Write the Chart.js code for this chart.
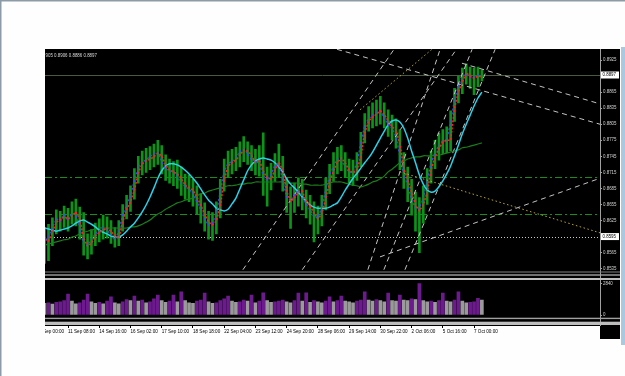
<!DOCTYPE html>
<html>
<head>
<meta charset="utf-8">
<title>H1 chart</title>
<script src="https://cdn.jsdelivr.net/npm/chart.js@4.4.1/dist/chart.umd.min.js"></script>
<style>
  html, body { margin: 0; padding: 0; background: #fdfefd; overflow: hidden; }
  canvas { display: block; }
</style>
</head>
<body>
<canvas id="chart" width="625" height="376"></canvas>
<script>
// time axis: one label every 8 points (a point = 4 hourly bars)
var timeLabels = ['10 Sep 00:00', '11 Sep 08:00', '14 Sep 16:00', '16 Sep 02:00', '17 Sep 10:00',
  '18 Sep 18:00', '22 Sep 04:00', '23 Sep 12:00', '24 Sep 20:00', '28 Sep 06:00',
  '29 Sep 14:00', '30 Sep 22:00', '2 Oct 06:00', '5 Oct 16:00', '7 Oct 00:00'];
var firstIndex = 2;

var highs = [
  0.8612, 0.8618, 0.8630, 0.8645, 0.8642, 0.8652, 0.8648, 0.8660, 0.8665, 0.8650,
  0.8640, 0.8600, 0.8608, 0.8620, 0.8628, 0.8635, 0.8632, 0.8625, 0.8612, 0.8625,
  0.8655, 0.8672, 0.8690, 0.8722, 0.8745, 0.8755, 0.8760, 0.8763, 0.8768, 0.8775,
  0.8765, 0.8748, 0.8740, 0.8735, 0.8738, 0.8725, 0.8712, 0.8710, 0.8702, 0.8690,
  0.8675, 0.8658, 0.8642, 0.8640, 0.8660, 0.8702, 0.8740, 0.8755, 0.8758, 0.8762,
  0.8772, 0.8782, 0.8772, 0.8765, 0.8758, 0.8765, 0.8789, 0.8725, 0.8732, 0.8750,
  0.8768, 0.8745, 0.8705, 0.8688, 0.8695, 0.8705, 0.8702, 0.8682, 0.8672, 0.8660,
  0.8652, 0.8672, 0.8705, 0.8730, 0.8752, 0.8762, 0.8765, 0.8752, 0.8740, 0.8738,
  0.8752, 0.8790, 0.8825, 0.8838, 0.8845, 0.8850, 0.8857, 0.8845, 0.8832, 0.8822,
  0.8815, 0.8795, 0.8752, 0.8725, 0.8702, 0.8678, 0.8668, 0.8690, 0.8722, 0.8755,
  0.8775, 0.8788, 0.8795, 0.8800, 0.8830, 0.8872, 0.8895, 0.8910, 0.8918, 0.8912,
  0.8910, 0.8912, 0.8906];
var lows = [
  0.8545, 0.8550, 0.8578, 0.8600, 0.8605, 0.8612, 0.8605, 0.8618, 0.8615, 0.8590,
  0.8560, 0.8553, 0.8562, 0.8578, 0.8585, 0.8590, 0.8592, 0.8582, 0.8575, 0.8578,
  0.8605, 0.8628, 0.8642, 0.8665, 0.8695, 0.8710, 0.8715, 0.8720, 0.8725, 0.8730,
  0.8712, 0.8700, 0.8695, 0.8690, 0.8685, 0.8672, 0.8665, 0.8660, 0.8652, 0.8638,
  0.8620, 0.8605, 0.8590, 0.8588, 0.8600, 0.8630, 0.8680, 0.8705, 0.8712, 0.8718,
  0.8725, 0.8735, 0.8730, 0.8718, 0.8710, 0.8708, 0.8672, 0.8652, 0.8682, 0.8698,
  0.8705, 0.8680, 0.8640, 0.8610, 0.8640, 0.8652, 0.8645, 0.8630, 0.8618, 0.8585,
  0.8600, 0.8615, 0.8645, 0.8675, 0.8698, 0.8712, 0.8718, 0.8705, 0.8695, 0.8690,
  0.8700, 0.8725, 0.8770, 0.8792, 0.8798, 0.8802, 0.8805, 0.8798, 0.8782, 0.8775,
  0.8760, 0.8720, 0.8685, 0.8660, 0.8635, 0.8605, 0.8565, 0.8620, 0.8655, 0.8695,
  0.8722, 0.8738, 0.8750, 0.8752, 0.8755, 0.8810, 0.8845, 0.8862, 0.8880, 0.8872,
  0.8860, 0.8875, 0.8886];
var closes = [
  0.8585, 0.8595, 0.8612, 0.8628, 0.8624, 0.8636, 0.8625, 0.8638, 0.8636, 0.8612,
  0.8580, 0.8579, 0.8590, 0.8601, 0.8606, 0.8612, 0.8607, 0.8598, 0.8589, 0.8605,
  0.8636, 0.8653, 0.8672, 0.8700, 0.8725, 0.8735, 0.8738, 0.8745, 0.8749, 0.8753,
  0.8735, 0.8722, 0.8717, 0.8714, 0.8707, 0.8695, 0.8688, 0.8684, 0.8675, 0.8660,
  0.8645, 0.8628, 0.8616, 0.8620, 0.8638, 0.8680, 0.8718, 0.8732, 0.8735, 0.8743,
  0.8754, 0.8759, 0.8750, 0.8738, 0.8737, 0.8730, 0.8709, 0.8700, 0.8712, 0.8728,
  0.8730, 0.8700, 0.8668, 0.8662, 0.8673, 0.8682, 0.8670, 0.8655, 0.8645, 0.8632,
  0.8630, 0.8650, 0.8683, 0.8709, 0.8727, 0.8740, 0.8738, 0.8725, 0.8715, 0.8716,
  0.8732, 0.8770, 0.8803, 0.8816, 0.8821, 0.8828, 0.8828, 0.8817, 0.8804, 0.8797,
  0.8782, 0.8745, 0.8710, 0.8690, 0.8665, 0.8647, 0.8648, 0.8667, 0.8700, 0.8733,
  0.8752, 0.8766, 0.8774, 0.8776, 0.8808, 0.8852, 0.8876, 0.8894, 0.8898, 0.8892,
  0.8894, 0.8896, 0.8897];
var fastMA = [
  0.8589, 0.8587, 0.8603, 0.8622, 0.8626, 0.8632, 0.8628, 0.8633, 0.8641, 0.8628,
  0.8592, 0.8577, 0.8583, 0.8596, 0.8603, 0.8607, 0.8611, 0.8605, 0.8596, 0.8592,
  0.8622, 0.8645, 0.8660, 0.8682, 0.8714, 0.8731, 0.8736, 0.8740, 0.8744, 0.8751,
  0.8746, 0.8729, 0.8719, 0.8716, 0.8712, 0.8703, 0.8691, 0.8686, 0.8682, 0.8669,
  0.8654, 0.8637, 0.8622, 0.8617, 0.8624, 0.8652, 0.8701, 0.8727, 0.8733, 0.8738,
  0.8747, 0.8757, 0.8755, 0.8747, 0.8733, 0.8738, 0.8718, 0.8704, 0.8703, 0.8719,
  0.8734, 0.8719, 0.8680, 0.8661, 0.8667, 0.8678, 0.8680, 0.8661, 0.8652, 0.8639,
  0.8628, 0.8637, 0.8665, 0.8697, 0.8718, 0.8733, 0.8742, 0.8733, 0.8719, 0.8714,
  0.8719, 0.8744, 0.8789, 0.8811, 0.8818, 0.8824, 0.8830, 0.8824, 0.8811, 0.8800,
  0.8794, 0.8768, 0.8723, 0.8701, 0.8678, 0.8654, 0.8643, 0.8654, 0.8678, 0.8719,
  0.8744, 0.8759, 0.8772, 0.8775, 0.8775, 0.8835, 0.8865, 0.8884, 0.8901, 0.8895,
  0.8891, 0.8895, 0.8893];
var midMA = [
  0.8611, 0.8609, 0.8607, 0.8605, 0.8607, 0.8609, 0.8611, 0.8615, 0.8620, 0.8624,
  0.8626, 0.8622, 0.8618, 0.8613, 0.8607, 0.8603, 0.8600, 0.8596, 0.8594, 0.8594,
  0.8598, 0.8605, 0.8613, 0.8620, 0.8630, 0.8641, 0.8654, 0.8669, 0.8686, 0.8704,
  0.8718, 0.8727, 0.8731, 0.8731, 0.8729, 0.8725, 0.8719, 0.8712, 0.8704, 0.8695,
  0.8684, 0.8673, 0.8663, 0.8656, 0.8648, 0.8645, 0.8643, 0.8646, 0.8656, 0.8667,
  0.8684, 0.8701, 0.8718, 0.8729, 0.8736, 0.8740, 0.8742, 0.8740, 0.8738, 0.8733,
  0.8725, 0.8716, 0.8703, 0.8693, 0.8686, 0.8678, 0.8669, 0.8661, 0.8654, 0.8650,
  0.8648, 0.8648, 0.8648, 0.8650, 0.8654, 0.8658, 0.8669, 0.8682, 0.8693, 0.8704,
  0.8713, 0.8723, 0.8733, 0.8742, 0.8753, 0.8766, 0.8779, 0.8792, 0.8804, 0.8811,
  0.8813, 0.8809, 0.8798, 0.8779, 0.8755, 0.8733, 0.8710, 0.8693, 0.8682, 0.8678,
  0.8680, 0.8688, 0.8699, 0.8712, 0.8727, 0.8746, 0.8766, 0.8787, 0.8805, 0.8822,
  0.8839, 0.8854, 0.8865];
var slowMA = [
  0.8579, 0.8581, 0.8583, 0.8585, 0.8587, 0.8589, 0.8590, 0.8594, 0.8596, 0.8600,
  0.8603, 0.8605, 0.8607, 0.8609, 0.8611, 0.8611, 0.8611, 0.8611, 0.8611, 0.8611,
  0.8611, 0.8611, 0.8613, 0.8613, 0.8615, 0.8618, 0.8622, 0.8626, 0.8632, 0.8637,
  0.8641, 0.8646, 0.8650, 0.8654, 0.8658, 0.8660, 0.8663, 0.8665, 0.8667, 0.8671,
  0.8675, 0.8676, 0.8680, 0.8682, 0.8684, 0.8686, 0.8688, 0.8690, 0.8690, 0.8691,
  0.8693, 0.8693, 0.8695, 0.8695, 0.8697, 0.8697, 0.8697, 0.8697, 0.8697, 0.8697,
  0.8697, 0.8697, 0.8695, 0.8695, 0.8695, 0.8695, 0.8693, 0.8693, 0.8691, 0.8691,
  0.8691, 0.8691, 0.8693, 0.8695, 0.8697, 0.8697, 0.8697, 0.8695, 0.8693, 0.8691,
  0.8690, 0.8688, 0.8690, 0.8693, 0.8697, 0.8699, 0.8703, 0.8708, 0.8716, 0.8721,
  0.8727, 0.8733, 0.8736, 0.8740, 0.8742, 0.8744, 0.8744, 0.8746, 0.8746, 0.8746,
  0.8747, 0.8747, 0.8749, 0.8751, 0.8753, 0.8755, 0.8757, 0.8761, 0.8762, 0.8764,
  0.8766, 0.8768, 0.8770];
var volumes = [
  1050, 1100, 980, 1150, 1200, 1300, 1890, 1250, 1000, 1100,
  1350, 1890, 1200, 1050, 1150, 1000, 1250, 1650, 1100, 1000,
  1200, 1400, 1300, 1700, 1250, 1350, 1100, 1200, 1450, 1800,
  1300, 1150, 1250, 1800, 1200, 2100, 1300, 1100, 1050, 1250,
  1350, 1980, 1200, 1050, 1100, 1300, 1450, 1700, 1250, 1150,
  1200, 1350, 1250, 1800, 1100, 1250, 2000, 1300, 1150, 1200,
  1250, 1350, 1200, 1100, 1300, 1980, 1250, 2000, 1150, 1300,
  1200, 1100, 1250, 1650, 1200, 1300, 1700, 1250, 1200, 1100,
  1250, 1350, 2100, 1350, 1250, 1400, 1300, 1200, 1980, 1300,
  1250, 1800, 1350, 1300, 1450, 1400, 2840, 1300, 1200, 1250,
  1150, 1300, 1980, 1250, 1200, 1350, 2100, 1250, 1100, 1150,
  1200, 1500, 1350];

var priceTicks = [0.8925, 0.8865, 0.8835, 0.8805, 0.8775, 0.8745, 0.8715, 0.8685,
  0.8655, 0.8625, 0.8565, 0.8535];
var volumeTicks = [0, 2840];
var bidPrice = 0.8897;
var markedPrice = 0.8595;
var levelPrices = [0.8707, 0.8637];
var headerText = '905 0.8906 0.8886 0.8897';

// hand drawn objects: [index, price, index, price]
var dashedLines = [
  [52.8, 0.8533, 91.5, 0.8945],
  [68.0, 0.8533, 107.5, 0.8945],
  [84.8, 0.8533, 103.3, 0.8945],
  [88.9, 0.8533, 111.5, 0.8945],
  [94.3, 0.8533, 117.4, 0.8945],
  [87.9, 0.8557, 144.26, 0.8704],
  [76.9, 0.8945, 144.26, 0.8805],
  [108.9, 0.8919, 144.26, 0.8843]
];
var dottedLines = [
  [93.0, 0.8716, 144.26, 0.8602],
  [82.8, 0.8832, 101.2, 0.8945]
];

function series(values) {
  return values.map(function (v, i) { return { x: firstIndex + i, y: v }; });
}
function segment(s) {
  return [{ x: s[0], y: s[1] }, { x: s[2], y: s[3] }];
}

// the screenshot uses a narrow terminal font: prefer a narrow face and size it to the label widths
var probe = document.createElement('canvas').getContext('2d');
function measure(fam, text) { probe.font = '20px ' + fam; return probe.measureText(text).width; }
var family = measure("'Liberation Sans Narrow', monospace", '11 Sep 08:00') !== measure('monospace', '11 Sep 08:00')
  ? "'Liberation Sans Narrow', 'Liberation Sans', sans-serif" : "'Liberation Sans', Arial, sans-serif";
function fitSize(text, width) { return Math.max(4.4, Math.min(6.5, 20 * width / measure(family, text))); }
var timeFont = { family: family, size: fitSize('11 Sep 08:00', 27) };
var priceFont = { family: family, size: fitSize('0.8925', 13.5) };

var panes = {
  id: 'panes',
  beforeDraw: function (chart) {
    var ctx = chart.ctx, a = chart.chartArea;
    ctx.save();
    ctx.fillStyle = '#fdfefd';
    ctx.fillRect(0, 0, chart.width, chart.height);
    ctx.fillStyle = '#000';
    ctx.fillRect(45, a.top, 620 - 45, a.bottom - a.top + 1);
    ctx.fillRect(a.right, a.bottom, 20, 14);
    ctx.fillStyle = '#a9c9e1';
    ctx.fillRect(621, a.top - 2, 4, 298);
    ctx.restore();
  },
  beforeDatasetsDraw: function (chart) {
    var ctx = chart.ctx, a = chart.chartArea, y = chart.scales.y, v = chart.scales.v;
    ctx.save();
    // sub window separators
    var t = v.top, b = v.bottom;
    ctx.fillStyle = '#808080'; ctx.fillRect(45, t + 1.5, 575, 1);
    ctx.fillStyle = '#a0a0a0'; ctx.fillRect(45, t + 4.3, 575, 1.4);
    ctx.fillStyle = '#bdbdbd'; ctx.fillRect(45, t + 8, 575, 2);
    ctx.fillStyle = '#a0a0a0'; ctx.fillRect(45, b - 7.3, 575, 1.4);
    ctx.fillStyle = '#bdbdbd'; ctx.fillRect(45, b - 3.3, 575, 3.3);

    ctx.lineWidth = 1;
    ctx.beginPath();
    ctx.strokeStyle = '#4a5a40';
    var py = Math.round(y.getPixelForValue(bidPrice)) + 0.5;
    ctx.moveTo(45, py); ctx.lineTo(a.right, py); ctx.stroke();

    ctx.beginPath();
    ctx.setLineDash([1, 2]);
    ctx.strokeStyle = '#c8c8c8';
    py = Math.round(y.getPixelForValue(markedPrice)) + 0.5;
    ctx.moveTo(45, py); ctx.lineTo(a.right, py); ctx.stroke();

    ctx.setLineDash([7, 3, 2, 3]);
    ctx.strokeStyle = '#1c8c1c';
    levelPrices.forEach(function (p) {
      var ly = Math.round(y.getPixelForValue(p)) + 0.5;
      ctx.beginPath(); ctx.moveTo(45, ly); ctx.lineTo(a.right, ly); ctx.stroke();
    });
    ctx.restore();
  },
  afterDraw: function (chart) {
    var ctx = chart.ctx, a = chart.chartArea, y = chart.scales.y;
    ctx.save();
    ctx.font = priceFont.size + 'px ' + family;
    ctx.textBaseline = 'middle';
    ctx.textAlign = 'left';
    [bidPrice, markedPrice].forEach(function (p) {
      var py = y.getPixelForValue(p);
      ctx.fillStyle = '#ffffff';
      ctx.fillRect(a.right + 1, py - 3.5, 18, 7);
      ctx.fillStyle = '#000';
      ctx.fillText(p.toFixed(4), a.right + 2.5, py);
    });
    ctx.fillStyle = '#d8d8d8';
    ctx.fillText(headerText, 45.5, 55.5);
    // left window edge clips the first time label
    ctx.fillStyle = '#fdfefd';
    ctx.fillRect(0, 0, 45, chart.height);
    ctx.fillStyle = '#8d9aa8';
    ctx.fillRect(0, 0, 1.5, chart.height);
    ctx.fillRect(0, 0, chart.width, 1.5);
    ctx.restore();
  }
};

var datasets = [
  {
    type: 'line', label: 'Fast', yAxisID: 'y', data: series(fastMA),
    borderColor: '#ff2020', borderWidth: 1.6, borderDash: [2, 1.5],
    pointRadius: 0, tension: 0, order: 1
  },
  {
    type: 'line', label: 'Close', yAxisID: 'y', data: series(closes),
    borderColor: '#2f4dff', borderWidth: 1.3, borderDash: [2, 2], borderDashOffset: 2,
    pointRadius: 0, tension: 0, order: 2
  },
  {
    type: 'line', label: 'Mid', yAxisID: 'y', data: series(midMA),
    borderColor: '#28d2ea', borderWidth: 1.5,
    pointRadius: 0, tension: 0.3, order: 3
  },
  {
    type: 'line', label: 'Slow', yAxisID: 'y', data: series(slowMA),
    borderColor: '#1b7d1b', borderWidth: 1.2,
    pointRadius: 0, tension: 0.3, order: 4
  },
  {
    type: 'bar', label: 'Range', yAxisID: 'y',
    data: highs.map(function (h, i) { return { x: firstIndex + i, y: [lows[i], h] }; }),
    backgroundColor: '#0b9418', barThickness: 2, grouped: false, order: 10
  },
  {
    type: 'bar', label: 'Volume', yAxisID: 'v', data: series(volumes),
    backgroundColor: volumes.map(function (v, i) {
      return i > 0 && v > volumes[i - 1] ? '#6c1a8e' : '#9a9a9a';
    }),
    barThickness: 3, grouped: false, order: 11
  }
];
dashedLines.forEach(function (s) {
  datasets.push({
    type: 'line', yAxisID: 'y', data: segment(s), borderColor: '#c4c4c4',
    borderWidth: 1, borderDash: [5, 4], pointRadius: 0, order: 5
  });
});
dottedLines.forEach(function (s) {
  datasets.push({
    type: 'line', yAxisID: 'y', data: segment(s), borderColor: '#b8a62c',
    borderWidth: 1, borderDash: [1.5, 2.5], pointRadius: 0, order: 5
  });
});

new Chart(document.getElementById('chart'), {
  type: 'bar',
  data: { datasets: datasets },
  options: {
    responsive: false,
    animation: false,
    devicePixelRatio: 1,
    events: [],
    layout: { padding: { left: 36.8, top: 49, right: 5, bottom: 0 } },
    plugins: { legend: { display: false }, tooltip: { enabled: false } },
    scales: {
      x: {
        type: 'linear', min: 0, max: 144.26, offset: false,
        afterBuildTicks: function (s) {
          s.ticks = timeLabels.map(function (t, k) { return { value: k * 8 }; });
        },
        afterFit: function (s) { s.height = 51; },
        ticks: {
          autoSkip: false, maxRotation: 0, align: 'start', padding: 1, color: '#000',
          font: timeFont,
          callback: function (v, i) { return timeLabels[i]; }
        },
        grid: { drawOnChartArea: false, offset: false, tickLength: 3, color: '#000' },
        border: { display: false }
      },
      y: {
        position: 'right', stack: 'panes', stackWeight: 221, weight: 0,
        min: 0.85325, max: 0.89456,
        afterBuildTicks: function (s) {
          s.ticks = priceTicks.map(function (p) { return { value: p }; });
        },
        afterFit: function (s) { s.width = 20; },
        ticks: {
          color: '#d0d0d0', padding: 1, font: priceFont,
          callback: function (v) { return v.toFixed(4); }
        },
        grid: { drawOnChartArea: false, tickLength: 2, color: '#a0a0a0' },
        border: { display: true, color: '#a0a0a0' }
      },
      v: {
        position: 'right', stack: 'panes', stackWeight: 55, weight: 1,
        min: -900, max: 4060,
        afterBuildTicks: function (s) {
          s.ticks = volumeTicks.map(function (p) { return { value: p }; });
        },
        afterFit: function (s) { s.width = 20; },
        ticks: {
          color: '#d0d0d0', padding: 1, font: priceFont,
          callback: function (v) { return String(v); }
        },
        grid: { drawOnChartArea: false, tickLength: 2, color: '#a0a0a0' },
        border: { display: true, color: '#a0a0a0' }
      }
    }
  },
  plugins: [panes]
});
</script>
</body>
</html>
